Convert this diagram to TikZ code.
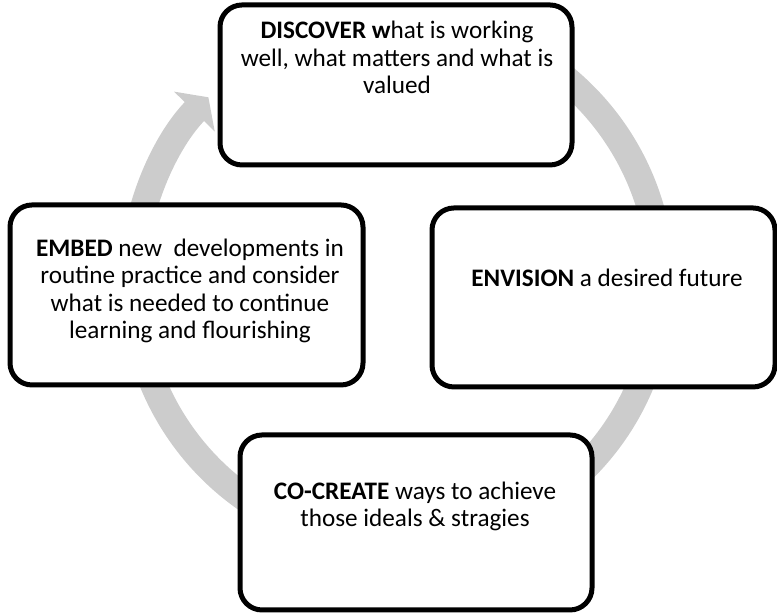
\documentclass[tikz,border=0pt]{standalone}
\usepackage{fontspec}
\setmainfont{Carlito}
\usetikzlibrary{arrows.meta}
\definecolor{ringgray}{RGB}{204,204,204}

\begin{document}
\begin{tikzpicture}[x=0.5pt,y=0.5pt,
	box/.style={draw=black,line width=2.5pt,rounded corners=11pt,fill=white},
	txt/.style={align=center,font=\fontsize{12.6pt}{13.7pt}\selectfont,inner sep=0pt},
	ring/.style={draw=ringgray,line width=13.5pt,-{Triangle[width=28pt,length=10pt]}}]
		\useasboundingbox (0,0) rectangle (777,613);
		\def\cx{397};
		\def\cy{331};
		\def\rr{264};
		\coordinate (O) at (\cx,\cy);
		% the cycle arrow behind the boxes
		\draw[ring] (O) ++(80:\rr) arc[start angle=80, end angle=-224.4, radius=\rr];
		\node[box,minimum width=176pt,minimum height=80pt] (discover) at (396,528) {};
		\node[box,minimum width=171.5pt,minimum height=89.5pt] (envision) at (603.5,315.5) {};
		\node[box,minimum width=176.5pt,minimum height=90pt] (embed) at (186.5,318) {};
		\node[box,minimum width=176pt,minimum height=87.5pt] (cocreate) at (416,90.5) {};
		\node[txt] (discovertxt) at (397,555.5) {\textbf{DISCOVER w}hat is working\\well, what matters and what is\\valued};
		\node[txt] (envisiontxt) at (607,335) {\textbf{ENVISION} a desired future};
		\node[txt] (embedtxt) at (190,322) {\textbf{EMBED} new\ \ developments in\\routine practice and consider\\what is needed to continue\\learning and flourishing};
		\node[txt] (cocreatetxt) at (415,106.5) {\textbf{CO-CREATE} ways to achieve\\those ideals \& stragies};
\end{tikzpicture}
\end{document}
